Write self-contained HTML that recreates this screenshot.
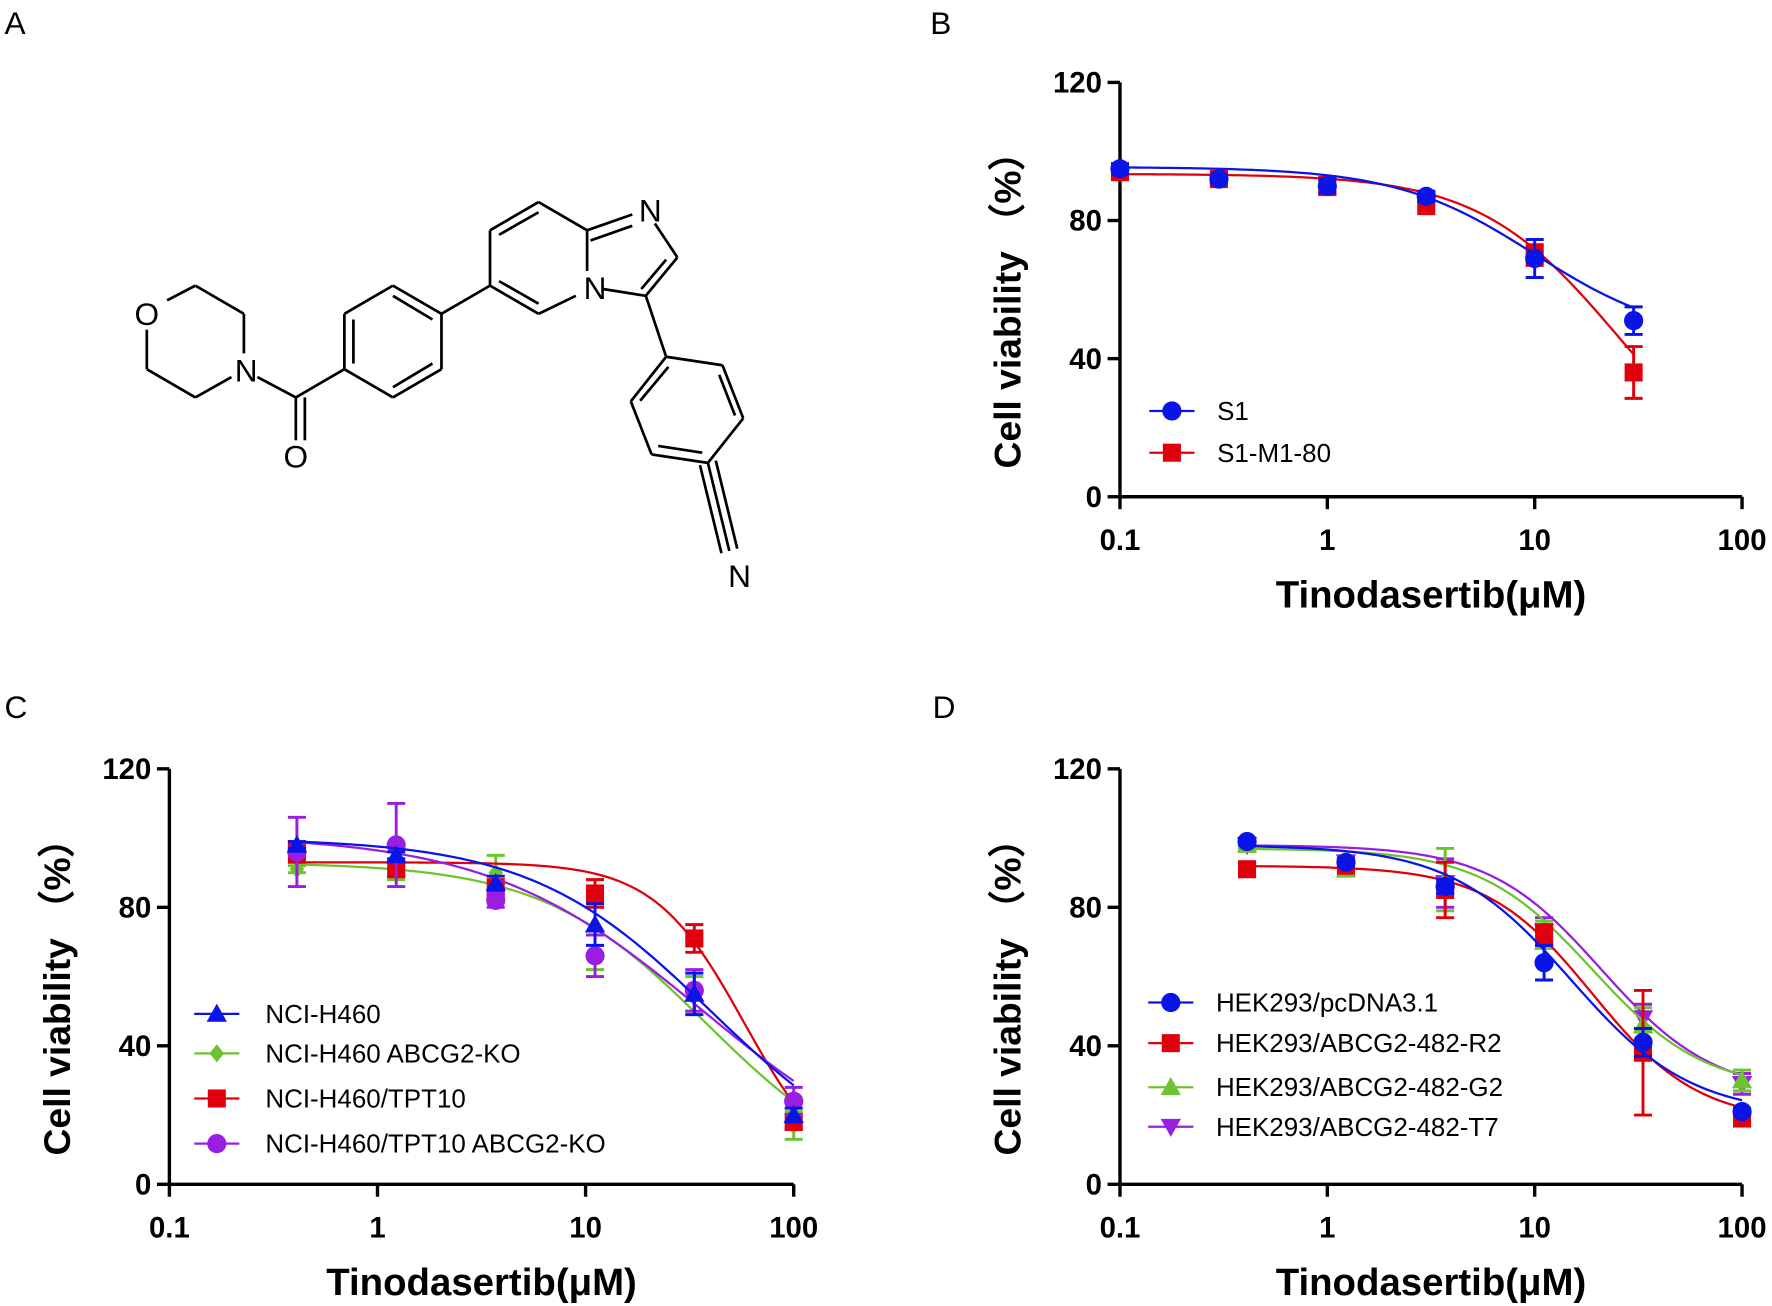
<!DOCTYPE html>
<html><head><meta charset="utf-8">
<style>
html,body{margin:0;padding:0;background:#fff;}
svg{display:block;}
text{font-family:"Liberation Sans",Arial,sans-serif;}
</style></head>
<body>
<svg id="fig" width="1772" height="1306" viewBox="0 0 1569.5 1156.8" xmlns="http://www.w3.org/2000/svg">
<rect width="1569.5" height="1156.8" fill="#fff"/>
<g id="structure" stroke="#000" stroke-width="2.4" fill="none"></g>
</svg>
<script>
// ---- Panel B data ----
const bX = [0.1, 0.3, 1, 3, 10, 30];
const bS1 = [95, 92, 90, 87, 69, 51];
const bS1Err = [1.5, 1, 2, 1.5, 5.5, 4];
const bM1 = [94, 92, 90, 85, 70, 36];
const bM1Err = [2, 1.5, 2.5, 3, 3, 7.5];
const bS1Fit = [95.5, 45, 10, 1.3];
const bM1Fit = [93.5, 0, 25, 1.3];
// ---- Panel C data ----
const cX = [0.41, 1.23, 3.7, 11.1, 33.3, 100];
const cH460 = [98, 95, 87, 75, 55, 20];
const cH460Err = [1, 1, 2, 6, 6, 2];
const cKO = [91, 91, 90, 67, 55, 17];
const cKOErr = [1, 3, 5, 5, 5, 4];
const cTPT = [96, 91, 85, 84, 71, 18];
const cTPTErr = [3, 2, 3, 4, 4, 2];
const cTPTKO = [96, 98, 82, 66, 56, 24];
const cTPTKOErr = [10, 12, 2, 6, 6, 4];
const cH460Fit = [100, 0, 40, 1.0];
const cKOFit = [93, 0, 38, 1.1];
const cTPTFit = [93, 0, 58, 2.0];
const cTPTKOFit = [101, 0, 36, 0.85];
// ---- Panel D data ----
const dX = [0.41, 1.23, 3.7, 11.1, 33.3, 100];
const dPc = [99, 93, 86, 64, 41, 21];
const dPcErr = [1, 1, 2, 5, 4, 1];
const dR2 = [91, 92, 85, 72, 38, 19];
const dR2Err = [2, 2, 8, 3, 18, 1];
const dG2 = [98, 91, 88, 70, 46, 30];
const dG2Err = [1, 2, 9, 6, 5, 3];
const dT7 = [98, 93, 87, 73, 48, 29];
const dT7Err = [1, 1, 7, 4, 4, 3];
const dPcFit = [98, 20, 15, 1.5];
const dR2Fit = [92, 18, 19, 1.7];
const dG2Fit = [97, 27, 19, 1.6];
const dT7Fit = [98, 26, 21, 1.6];
const xTicks = [0.1, 1, 10, 100];
const xTickLabels = ["0.1", "1", "10", "100"];
const yTicks = [0, 40, 80, 120];

const NS = "http://www.w3.org/2000/svg";
const svg = document.getElementById('fig');
function mk(tag, attrs, parent){
  const e = document.createElementNS(NS, tag);
  for (const k in attrs) e.setAttribute(k, attrs[k]);
  (parent||svg).appendChild(e); return e;
}
const COL = {blue:"#0a14e6", red:"#e0000b", green:"#6cc431", purple:"#9a1ee0"};

function makeAxes(x0, x1, yTop, yBot){
  const sx = v => x0 + (Math.log10(v) + 1) / 3 * (x1 - x0);
  const sy = v => yBot - v / 120 * (yBot - yTop);
  return {sx, sy};
}

function drawPanel(name, x0, x1, yTop, yBot){
  const ax = makeAxes(x0, x1, yTop, yBot);
  const g = mk('g', {});
  
  
  mk('line', {x1:x0, y1:yTop, x2:x0, y2:yBot, stroke:'#000', 'stroke-width':3}, g);
  mk('line', {x1:x0, y1:yBot, x2:x1, y2:yBot, stroke:'#000', 'stroke-width':3}, g);
  yTicks.forEach(t => {
    const y = ax.sy(t);
    mk('line', {x1:x0-11, y1:y, x2:x0, y2:y, stroke:'#000', 'stroke-width':3}, g);
    const tx = mk('text', {x:x0-16, y:y+9, 'text-anchor':'end', 'font-size':26, 'font-weight':'bold'}, g);
    tx.textContent = t;
    
    
  });
  xTicks.forEach((t, i) => {
    const x = ax.sx(t);
    mk('line', {x1:x, y1:yBot, x2:x, y2:yBot+11, stroke:'#000', 'stroke-width':3}, g);
    const tx = mk('text', {x:x, y:yBot+47, 'text-anchor':'middle', 'font-size':26, 'font-weight':'bold'}, g);
    tx.textContent = xTickLabels[i];
    
    
  });
  const xt = mk('text', {x:(x0+x1)/2, y:yBot+98, 'text-anchor':'middle', 'font-size':34, 'font-weight':'bold'}, g);
  xt.textContent = 'Tinodasertib(μM)';
  
  
  const cy = (yTop + yBot) / 2 + 10;
  const yt = mk('text', {x:0, y:0, 'text-anchor':'middle', 'font-size':33, 'font-weight':'bold', transform:`translate(${x0-88},${cy}) rotate(-90)`}, g);
  yt.textContent = 'Cell viability （%）';
  yt.setAttribute('font-family', '"Liberation Sans","Noto Sans CJK SC",sans-serif');
  
  
  return ax;
}

function marker(shape, x, y, color, parent){
  let e;
  if (shape === 'circle') e = mk('circle', {cx:x, cy:y, r:8.5, fill:color}, parent);
  else if (shape === 'square') e = mk('rect', {x:x-8, y:y-8, width:16, height:16, fill:color}, parent);
  else if (shape === 'tri') e = mk('polygon', {points:`${x},${y-9} ${x+9},${y+7} ${x-9},${y+7}`, fill:color}, parent);
  else if (shape === 'dtri') e = mk('polygon', {points:`${x},${y+9} ${x+9},${y-7} ${x-9},${y-7}`, fill:color}, parent);
  else if (shape === 'diamond') e = mk('polygon', {points:`${x},${y-8} ${x+6.5},${y} ${x},${y+8} ${x-6.5},${y}`, fill:color}, parent);
  return e;
}

function drawSeries(ax, name, xs, ys, errs, fit, color, shape, xmin, xmax){
  const g = mk('g', {});
  
  
  const [top, bot, ic, h] = fit;
  let d = '';
  const N = 120;
  for (let i = 0; i <= N; i++){
    const lx = Math.log10(xmin) + (Math.log10(xmax) - Math.log10(xmin)) * i / N;
    const xv = Math.pow(10, lx);
    const yv = bot + (top - bot) / (1 + Math.pow(xv / ic, h));
    d += (i ? 'L' : 'M') + ax.sx(xv).toFixed(2) + ',' + ax.sy(yv).toFixed(2);
  }
  const p = mk('path', {d:d, stroke:color, 'stroke-width':2, fill:'none'}, g);
  
  
  xs.forEach((xv, i) => {
    const x = ax.sx(xv), y1 = ax.sy(ys[i] + errs[i]), y2 = ax.sy(ys[i] - errs[i]);
    const eb = mk('path', {d:`M${x},${y1}L${x},${y2}M${x-8},${y1}L${x+8},${y1}M${x-8},${y2}L${x+8},${y2}`, stroke:color, 'stroke-width':2.6, fill:'none'}, g);
    
    
    const m = marker(shape, x, ax.sy(ys[i]), color, g);
    
    
  });
}

function legend(entries, lx, ys, tx, fs){
  const g = mk('g', {});
  
  
  entries.forEach((en, i) => {
    const y = ys[i];
    const eg = mk('g', {}, g);
    
    
    mk('line', {x1:lx, y1:y, x2:lx+40, y2:y, stroke:en[1], 'stroke-width':2}, eg);
    marker(en[2], lx+20, y, en[1], eg);
    const t = mk('text', {x:tx, y:y+8, 'font-size':fs}, eg);
    t.textContent = en[0];
  });
}

function label(txt, x, y){
  const t = mk('text', {x:x, y:y, 'font-size':28});
  t.textContent = txt;
  
  
}
label('A', 4, 30); label('B', 824, 30); label('C', 4, 636); label('D', 826, 636);

// Panel B
const axB = drawPanel('panel-b', 992, 1543, 73, 440);
drawSeries(axB, 's1-m1-80', bX, bM1, bM1Err, bM1Fit, COL.red, 'square', 0.1, 30);
drawSeries(axB, 's1', bX, bS1, bS1Err, bS1Fit, COL.blue, 'circle', 0.1, 30);
legend([['S1', COL.blue, 'circle'], ['S1-M1-80', COL.red, 'square']], 1018, [364, 401], 1078, 23);

// Panel C
const axC = drawPanel('panel-c', 150, 703, 681, 1049);
drawSeries(axC, 'nci-h460-abcg2-ko', cX, cKO, cKOErr, cKOFit, COL.green, 'diamond', 0.41, 100);
drawSeries(axC, 'nci-h460-tpt10', cX, cTPT, cTPTErr, cTPTFit, COL.red, 'square', 0.41, 100);
drawSeries(axC, 'nci-h460-tpt10-abcg2-ko', cX, cTPTKO, cTPTKOErr, cTPTKOFit, COL.purple, 'circle', 0.41, 100);
drawSeries(axC, 'nci-h460', cX, cH460, cH460Err, cH460Fit, COL.blue, 'tri', 0.41, 100);
legend([['NCI-H460', COL.blue, 'tri'], ['NCI-H460 ABCG2-KO', COL.green, 'diamond'], ['NCI-H460/TPT10', COL.red, 'square'], ['NCI-H460/TPT10 ABCG2-KO', COL.purple, 'circle']], 172, [898, 933, 973, 1013], 235, 23);

// Panel D
const axD = drawPanel('panel-d', 992, 1543, 681, 1049);
drawSeries(axD, 'hek293-abcg2-482-t7', dX, dT7, dT7Err, dT7Fit, COL.purple, 'dtri', 0.41, 100);
drawSeries(axD, 'hek293-abcg2-482-g2', dX, dG2, dG2Err, dG2Fit, COL.green, 'tri', 0.41, 100);
drawSeries(axD, 'hek293-abcg2-482-r2', dX, dR2, dR2Err, dR2Fit, COL.red, 'square', 0.41, 100);
drawSeries(axD, 'hek293-pcdna3-1', dX, dPc, dPcErr, dPcFit, COL.blue, 'circle', 0.41, 100);
legend([['HEK293/pcDNA3.1', COL.blue, 'circle'], ['HEK293/ABCG2-482-R2', COL.red, 'square'], ['HEK293/ABCG2-482-G2', COL.green, 'tri'], ['HEK293/ABCG2-482-T7', COL.purple, 'dtri']], 1017, [888, 924, 963, 998], 1077, 23);

// Chemical structure (panel A)
const S = document.getElementById('structure');
const bonds = [
 [[148,266],[173,253]],[[173,253],[216,278]],[[216,278],[216,313]],[[205,334],[173,352]],[[173,352],[130,327]],[[130,327],[130,292]],
 [[228,334],[262,352]],[[262,352],[262,390]],[[270,352],[270,390]],[[262,352],[305,327]],
 [[305,327],[305,278]],[[305,278],[348,253]],[[348,253],[391,278]],[[391,278],[391,327]],[[391,327],[348,352]],[[348,352],[305,327]],
 [[313,322],[313,283]],[[348,262],[383,283]],[[383,322],[348,343]],
 [[391,278],[434,253]],
 [[434,253],[434,204]],[[434,204],[477,179]],[[477,179],[520,204]],[[520,204],[520,240]],[[510,262],[477,278]],[[477,278],[434,253]],
 [[442,208],[477,188]],[[442,249],[477,269]],
 [[520,204],[560,190]],[[580,198],[600,228]],[[600,228],[572,262]],[[572,262],[534,256]],[[523,213],[560,200]],[[590,230],[568,256]],
 [[572,262],[590,316]],
 [[590,316],[639.9,323.5]],[[639.9,323.5],[658.3,370.5]],[[658.3,370.5],[627,410]],[[627,410],[577.1,402.5]],[[577.1,402.5],[558.7,355.5]],[[558.7,355.5],[590,316]],
 [[637,332],[651,368]],[[622,401],[583,395]],[[567,355],[592,325]],
 [[627,410],[646,488]],[[620,412],[639,490]],[[634,408],[653,486]]
];
bonds.forEach(b => {
  mk('line', {x1:b[0][0], y1:b[0][1], x2:b[1][0], y2:b[1][1]}, S);
});
[['O',130,288],['N',218,338],['O',262,414],['N',527,265],['N',576,196],['N',655,520]].forEach(a => {
  const t = mk('text', {x:a[1], y:a[2], 'text-anchor':'middle', 'font-size':28, fill:'#000', stroke:'none'}, S);
  t.textContent = a[0];
  
  
});
</script>
</body></html>
